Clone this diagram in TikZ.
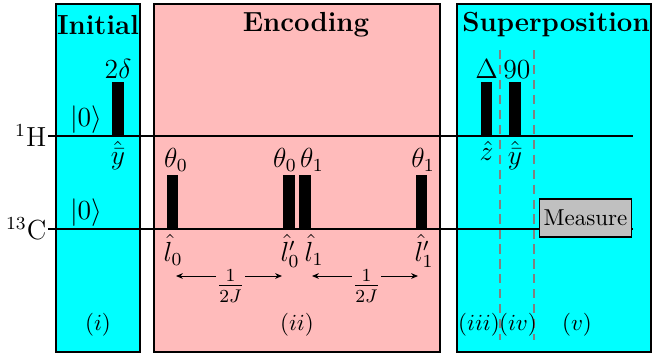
\documentclass[tikz,border=0pt]{standalone}
\usetikzlibrary{arrows.meta}
\definecolor{boxpink}{RGB}{255,187,187}
\definecolor{boxcyan}{RGB}{0,255,255}
\definecolor{measuregray}{RGB}{192,192,192}
\begin{document}
\begin{tikzpicture}[x=0.4348pt,y=-0.4348pt,
  panel/.style={draw=black,line width=1pt},
  wire/.style={line width=1.2pt},
  pulse/.style={fill=black,inner sep=0pt,minimum width=5.2pt,minimum height=23.5pt,anchor=south},
  title/.style={font=\large\bfseries},
  lab/.style={font=\large,inner sep=0.5pt},
  stage/.style={font=\normalsize},
  sep/.style={draw=gray,dash pattern=on 4pt off 2.5pt,line width=0.8pt},
  gap/.style={-{Stealth[length=3pt,width=2.5pt]},line width=0.4pt}
]
\useasboundingbox (0,0) rectangle (653,358);
% panels
\filldraw[panel,fill=boxcyan] (56,4) rectangle (140,352);
\filldraw[panel,fill=boxpink] (154,4) rectangle (440,352);
\filldraw[panel,fill=boxcyan] (457,4) rectangle (651,352);
\node[title] (tInit) at (98,25) {Initial};
\node[title] (tEnc) at (306,25) {Encoding};
\node[title] (tSup) at (556,25) {Superposition};
% wires
\coordinate (hs) at (48,136); \coordinate (he) at (633,136);
\coordinate (cs) at (48,229); \coordinate (ce) at (633,229);
\node[lab,anchor=east] (lH) at (hs) {$^{1}$H};
\node[lab,anchor=east] (lC) at (cs) {$^{13}$C};
% dashed separators
\coordinate (d1t) at (500,50); \coordinate (d1b) at (500,340);
\coordinate (d2t) at (534,50); \coordinate (d2b) at (534,340);
\draw[sep] (d1t) -- (d1b);
\draw[sep] (d2t) -- (d2b);
\draw[wire] (hs) -- (he);
\draw[wire] (cs) -- (ce);
% initial states
\node[lab,anchor=south] (k0h) at (86,135) {$|0\rangle$};
\node[lab,anchor=south] (k0c) at (86,228) {$|0\rangle$};
% initial pulse
\node[pulse] (p0) at (118,136) {};
\node[lab,anchor=south] (p0t) at (118,80) {$2\delta$};
\node[lab,anchor=north] (p0b) at (118,140) {$\hat{\bar{y}}$};
% encoding pulses
\node[pulse] (e1) at (172.5,229) {};
\node[pulse] (e2) at (289,229) {};
\node[pulse] (e3) at (305,229) {};
\node[pulse] (e4) at (421.5,229) {};
\node[lab,anchor=south] (e1t) at (176,173) {$\theta_0$};
\node[lab,anchor=south] (e2t) at (285,173) {$\theta_0$};
\node[lab,anchor=south] (e3t) at (312,173) {$\theta_1$};
\node[lab,anchor=south] (e4t) at (423,173) {$\theta_1$};
\node[lab,anchor=north] (e1b) at (173,233) {$\hat{l}_0$};
\node[lab,anchor=north] (e2b) at (290,233) {$\hat{l}'_0$};
\node[lab,anchor=north] (e3b) at (314,233) {$\hat{l}_1$};
\node[lab,anchor=north] (e4b) at (424,233) {$\hat{l}'_1$};
% delays
\node[inner sep=1pt,font=\large] (f1) at (230.5,286) {$\frac{1}{2J}$};
\node[inner sep=1pt,font=\large] (f2) at (366.5,286) {$\frac{1}{2J}$};
\coordinate (a1l) at (176,276); \coordinate (a1r) at (282,276);
\coordinate (a2l) at (312,276); \coordinate (a2r) at (418,276);
\draw[gap] (216,276) -- (a1l);
\draw[gap] (245,276) -- (a1r);
\draw[gap] (352,276) -- (a2l);
\draw[gap] (381,276) -- (a2r);
% superposition pulses
\node[pulse] (s1) at (486.5,136) {};
\node[pulse] (s2) at (515,136) {};
\node[lab,anchor=south] (s1t) at (486.5,80) {$\Delta$};
\node[lab,anchor=south] (s2t) at (517,80) {$90$};
\node[lab,anchor=north] (s1b) at (486.5,140) {$\hat{z}$};
\node[lab,anchor=north] (s2b) at (515,140) {$\hat{\bar{y}}$};
% measure
\node[draw=black,line width=0.8pt,fill=measuregray,minimum width=40pt,minimum height=16.2pt,inner sep=1pt] (meas) at (585.5,218) {Measure};
% stage labels
\node[stage] (st1) at (98,325) {$(i)$};
\node[stage] (st2) at (297,325) {$(ii)$};
\node[stage] (st3) at (479,325) {$(iii)$};
\node[stage] (st4) at (518,325) {$(iv)$};
\node[stage] (st5) at (577,325) {$(v)$};
\end{tikzpicture}
\end{document}
